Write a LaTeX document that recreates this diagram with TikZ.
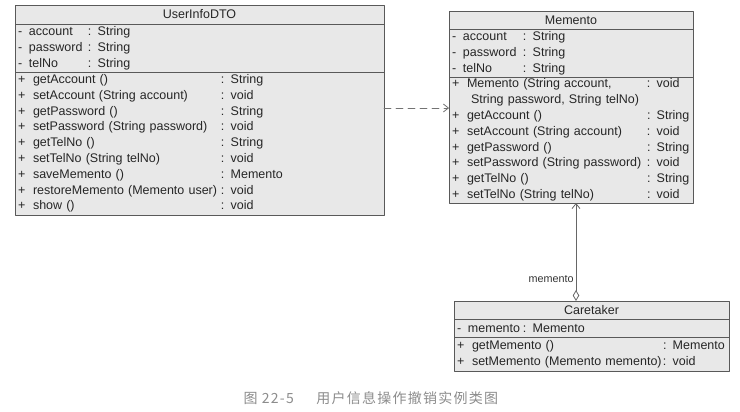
\documentclass[tikz,border=0pt]{standalone}
\usepackage{fontspec}
\setmainfont{Liberation Sans}
\newfontfamily\cjk[LetterSpace=9]{Noto Sans CJK SC}
\usetikzlibrary{positioning,arrows.meta}
\newcommand{\attrrow}[3]{\makebox[11pt][l]{-}\makebox[#1][l]{#2}#3}
\newcommand{\oprow}[3]{\makebox[15pt][l]{+}\makebox[#1][l]{#2}#3}
\tikzset{
  umlpart/.style={draw=black!65, fill=black!9, line width=0.8pt, outer sep=0pt,
    inner xsep=3pt, inner ysep=1pt, align=left, text width=#1, text=black!85,
    font=\fontsize{12.5}{15.8}\selectfont},
  umltitle/.style={umlpart=#1, align=center, anchor=north west},
  depline/.style={draw=black!55, line width=0.8pt, dash pattern=on 7pt off 5pt,
    -{Straight Barb[length=5pt,width=8pt]}},
  assocline/.style={draw=black!60, line width=0.8pt,
    {Diamond[open,length=11pt,width=6.5pt]}-{Straight Barb[length=5pt,width=8pt]}}
}
\begin{document}
\begin{tikzpicture}[x=1pt,y=-1pt,line join=round,line cap=round]
\useasboundingbox (0,0) rectangle (740,412);
% UserInfoDTO
\node[umltitle=363pt, minimum height=19pt] (dtoname) at (15,5) {UserInfoDTO};
\node[umlpart=363pt, minimum height=48pt, below=0pt of dtoname] (dtoattr) {%
  \attrrow{59pt}{account}{: String}\\
  \attrrow{59pt}{password}{: String}\\
  \attrrow{59pt}{telNo}{: String}};
\node[umlpart=363pt, minimum height=143pt, below=0pt of dtoattr] (dtoop) {%
  \oprow{188pt}{getAccount ()}{: String}\\
  \oprow{188pt}{setAccount (String account)}{: void}\\
  \oprow{188pt}{getPassword ()}{: String}\\
  \oprow{188pt}{setPassword (String password)}{: void}\\
  \oprow{188pt}{getTelNo ()}{: String}\\
  \oprow{188pt}{setTelNo (String telNo)}{: void}\\
  \oprow{188pt}{saveMemento ()}{: Memento}\\
  \oprow{188pt}{restoreMemento (Memento user)}{: void}\\
  \oprow{188pt}{show ()}{: void}};
% Memento
\node[umltitle=238pt, minimum height=18pt] (memname) at (449,11) {Memento};
\node[umlpart=238pt, minimum height=48pt, below=0pt of memname] (memattr) {%
  \attrrow{60pt}{account}{: String}\\
  \attrrow{60pt}{password}{: String}\\
  \attrrow{60pt}{telNo}{: String}};
\node[umlpart=238pt, minimum height=126pt, below=0pt of memattr] (memop) {%
  \oprow{180pt}{Memento (String account,}{: void}\\
  \hspace*{19pt}String password, String telNo)\\
  \oprow{180pt}{getAccount ()}{: String}\\
  \oprow{180pt}{setAccount (String account)}{: void}\\
  \oprow{180pt}{getPassword ()}{: String}\\
  \oprow{180pt}{setPassword (String password)}{: void}\\
  \oprow{180pt}{getTelNo ()}{: String}\\
  \oprow{180pt}{setTelNo (String telNo)}{: void}};
% Caretaker
\node[umltitle=269pt, minimum height=18pt] (ctname) at (454,301) {Caretaker};
\node[umlpart=269pt, minimum height=18pt, below=0pt of ctname] (ctattr) {%
  \attrrow{55pt}{memento}{: Memento}};
\node[umlpart=269pt, minimum height=34pt, below=0pt of ctattr] (ctop) {%
  \oprow{191pt}{getMemento ()}{: Memento}\\
  \oprow{191pt}{setMemento (Memento memento)}{: void}};
% relations
\draw[depline] ([yshift=-36pt]dtoop.north east) -- ([yshift=-31pt]memop.north west);
\draw[assocline] ([xshift=-15.5pt]ctname.north) -- ([xshift=5pt]memop.south)
  node[pos=0.22, left, inner sep=2pt, text=black!80, font=\fontsize{10.8}{12}\selectfont] (rolename) {memento};
% caption
\node[anchor=west, text=black!45, font=\cjk\fontsize{14}{14}\selectfont] (caption) at (240,398)
  {图 22-5\hspace{1.6em}用户信息操作撤销实例类图};
\end{tikzpicture}
\end{document}
